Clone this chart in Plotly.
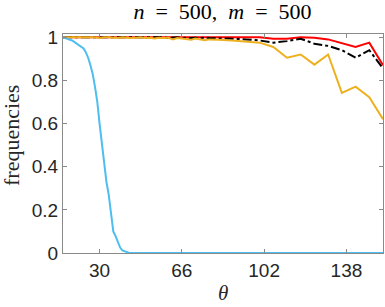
import plotly.graph_objects as go

# Blue curve (fine theta grid)
theta_blue = list(range(14, 45)) + [154]
freq_blue = [1.0, 0.995, 0.99, 0.988, 0.985, 0.978, 0.97, 0.965, 0.955, 0.948, 0.93, 0.905, 0.87, 0.83, 0.77, 0.70,
             0.60, 0.50, 0.41, 0.33, 0.27, 0.18, 0.10, 0.078, 0.05, 0.025, 0.012, 0.008, 0.003, 0.0, 0.0, 0.0]

# Other curves
theta_other = list(range(14, 81, 2)) + list(range(82, 155, 6))
freq_red = [1.0] * 34 + [1.0, 1.0, 1.0, 1.0, 0.993, 0.993, 1.0, 0.998, 0.99, 0.972, 0.955, 0.975, 0.87]
freq_black = [1.0, 1.0, 1.0, 1.0, 1.0, 0.998, 1.0, 1.0, 0.998, 1.0, 1.0, 0.998, 1.0, 1.0, 0.998, 1.0, 1.0,
              0.998, 1.0, 0.998, 1.0, 0.998, 1.0, 0.996, 0.998, 1.0, 0.996, 0.998, 0.996, 0.998, 0.996, 0.998,
              0.996, 0.996,
              0.995, 0.993, 0.99, 0.985, 0.975, 0.982, 0.993, 0.97, 0.96, 0.94, 0.905, 0.94, 0.855]
freq_orange = [1.0, 1.0, 1.0, 0.998, 1.0, 1.0, 0.998, 1.0, 0.996, 1.0, 1.0, 0.998, 0.996, 1.0, 0.998, 0.996,
               0.998, 1.0, 0.996, 0.998, 0.994, 0.998, 0.996, 0.998, 0.99, 0.996, 0.994, 0.992, 0.988, 0.994,
               0.99, 0.986, 0.99, 0.988,
               0.988, 0.985, 0.98, 0.975, 0.955, 0.905, 0.92, 0.873, 0.92, 0.742, 0.771, 0.722, 0.62]

x_ticks = [30, 66, 102, 138]
y_ticks = [0, 0.2, 0.4, 0.6, 0.8, 1]

fig = go.Figure()
fig.add_trace(go.Scatter(x=theta_other, y=freq_red, mode="lines", line=dict(color="#FF0000", width=2)))
fig.add_trace(go.Scatter(x=theta_other, y=freq_black, mode="lines", line=dict(color="#000000", width=2, dash="dashdot")))
fig.add_trace(go.Scatter(x=theta_other, y=freq_orange, mode="lines", line=dict(color="#EDB120", width=2)))
fig.add_trace(go.Scatter(x=theta_blue, y=freq_blue, mode="lines", line=dict(color="#4DBEEE", width=2)))

serif = "Liberation Serif"
tickfont = dict(family="Liberation Sans", size=19, color="#262626")
fig.update_layout(
    width=385, height=307,
    margin=dict(l=63, r=2, t=34, b=54),
    showlegend=False,
    plot_bgcolor="white", paper_bgcolor="white",
    title=dict(text="<i>n</i>&nbsp;&nbsp;=&nbsp;&nbsp;500,&nbsp;&nbsp;<i>m</i>&nbsp;&nbsp;=&nbsp;&nbsp;500",
               x=222.5 / 385, xanchor="center", xref="container",
               y=1 - 11 / 307, yanchor="middle", yref="container",
               font=dict(family=serif, size=22, color="#000")),
    xaxis=dict(range=[14, 154], tickvals=x_ticks, ticks="inside", ticklen=4, mirror="ticks",
               showline=True, linecolor="#8a8a8a", linewidth=1, tickcolor="#8a8a8a", showgrid=False, zeroline=False,
               tickfont=tickfont),
    yaxis=dict(range=[0, 1.015], tickvals=y_ticks, ticks="inside", ticklen=4, mirror="ticks",
               showline=True, linecolor="#8a8a8a", linewidth=1, tickcolor="#8a8a8a", showgrid=False, zeroline=False,
               tickfont=tickfont),
    annotations=[
        dict(text="<i>θ</i>", xref="paper", yref="paper", x=0.5, y=-40 / 219, xanchor="center", yanchor="middle",
             showarrow=False, font=dict(family=serif, size=21, color="#262626")),
        dict(text="frequencies", xref="paper", yref="paper", x=(11 - 63) / 320, y=(253 - 136) / 219,
             xanchor="center", yanchor="middle", textangle=-90,
             showarrow=False, font=dict(family=serif, size=22, color="#262626")),
    ],
)
fig.write_html("out.html", post_script="document.body.style.margin='0';",
               config={"displayModeBar": False})
